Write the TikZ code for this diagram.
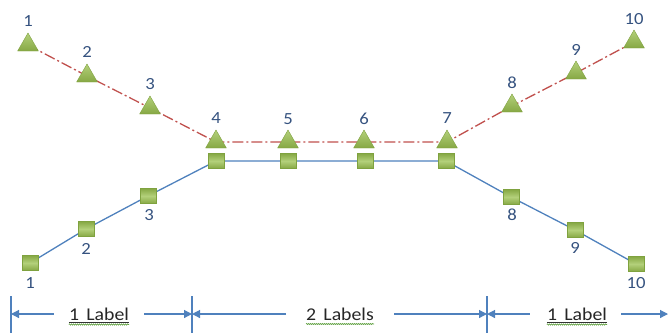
\documentclass[tikz,border=0pt]{standalone}
\usepackage{fontspec}
\setmainfont{Carlito}[FakeStretch=1.1]
\usetikzlibrary{shapes.geometric,arrows.meta,backgrounds,decorations.pathmorphing}
\definecolor{gfill}{HTML}{9BBB59}
\definecolor{gtop}{HTML}{B3D07A}
\definecolor{gbot}{HTML}{86A844}
\definecolor{gedge}{HTML}{7FA23F}
\definecolor{redc}{HTML}{C0504D}
\definecolor{bluec}{HTML}{4F81BD}
\definecolor{numc}{HTML}{35527F}
\definecolor{wavyc}{HTML}{5FA040}
\begin{document}
\begin{tikzpicture}[x=1pt,y=-1pt,
  tri/.style={regular polygon, regular polygon sides=3, minimum size=24pt, inner sep=0pt,
    draw=gedge, line width=0.4pt, top color=gtop, bottom color=gbot},
  sq/.style={rectangle, minimum width=16pt, minimum height=15pt, inner sep=0pt,
    draw=gedge, line width=0.4pt, top color=gbot, bottom color=gbot, middle color=gtop},
  num/.style={text=numc, font=\fontsize{17}{17}\selectfont, inner sep=0pt},
  dimtxt/.style={text=black!85, font=\fontsize{18}{18}\selectfont, inner sep=0pt, anchor=base},
  redl/.style={draw=redc, line width=1.3pt, dash pattern=on 11pt off 3pt on 2pt off 3pt},
  bluel/.style={draw=bluec, line width=1.3pt},
  dimarr/.style={draw=bluec, line width=1.2pt, -{Triangle[length=8pt,width=8pt]}},
  tick/.style={draw=bluec, line width=1.2pt},
  wav/.style={draw=wavyc, line width=0.6pt, decorate, decoration={snake, segment length=2pt, amplitude=0.6pt}},
  uline/.style={draw=black!80, line width=0.8pt}
]
\useasboundingbox (0,0) rectangle (668,333);

% triangles
\node[tri] (t1) at (28,45) {};
\node[tri] (t2) at (87,76) {};
\node[tri] (t3) at (150,108) {};
\node[tri] (t4) at (216,142) {};
\node[tri] (t5) at (288,142) {};
\node[tri] (t6) at (364,142) {};
\node[tri] (t7) at (447,142) {};
\node[tri] (t8) at (512,106) {};
\node[tri] (t9) at (576,73) {};
\node[tri] (t10) at (634,42) {};

% squares
\node[sq] (s1) at (30,263) {};
\node[sq] (s2) at (86,229) {};
\node[sq] (s3) at (148,196) {};
\node[sq] (s4) at (216,161) {};
\node[sq] (s5) at (288,161) {};
\node[sq] (s6) at (365,161) {};
\node[sq] (s7) at (446,161) {};
\node[sq] (s8) at (511,197) {};
\node[sq] (s9) at (575,230) {};
\node[sq] (s10) at (636,264) {};

\begin{pgfonlayer}{background}
\draw[redl] (t1.center) -- (t2.center) -- (t3.center) -- (t4.center) -- (t5.center) -- (t6.center)
  -- (t7.center) -- (t8.center) -- (t9.center) -- (t10.center);
\draw[bluel] (s1.center) -- (s2.center) -- (s3.center) -- (s4.center) -- (s5.center) -- (s6.center)
  -- (s7.center) -- (s8.center) -- (s9.center) -- (s10.center);
\end{pgfonlayer}

% triangle labels
\node[num] (a1) at (28,21) {1};
\node[num] (a2) at (87,52) {2};
\node[num] (a3) at (150,84) {3};
\node[num] (a4) at (216,118) {4};
\node[num] (a5) at (288,119) {5};
\node[num] (a6) at (364,119) {6};
\node[num] (a7) at (447,118) {7};
\node[num] (a8) at (512,83) {8};
\node[num] (a9) at (576,50) {9};
\node[num] (a10) at (634,19) {10};

% square labels
\node[num] (b1) at (30,283) {1};
\node[num] (b2) at (86,249) {2};
\node[num] (b3) at (149,215) {3};
\node[num] (b8) at (512,215) {8};
\node[num] (b9) at (575,248) {9};
\node[num] (b10) at (636,283) {10};

% dimension line
\coordinate (k0) at (11,314);
\coordinate (k1) at (192,314);
\coordinate (k2) at (487,314);
\coordinate (k3) at (668,314);
\draw[tick] (11,296) -- (11,333);
\draw[tick] (192,296) -- (192,333);
\draw[tick] (487,296) -- (487,333);

\node[dimtxt] (d1) at (99,320) {1\hspace{0.4em}Label};
\node[dimtxt] (d2) at (340,320) {2\hspace{0.4em}Labels};
\node[dimtxt] (d3) at (577,320) {1\hspace{0.4em}Label};

\draw[dimarr] ([xshift=-15pt,yshift=6pt]d1.base west) -- (k0);
\draw[dimarr] ([xshift=15pt,yshift=6pt]d1.base east) -- (k1);
\draw[dimarr] ([xshift=-20pt,yshift=6pt]d2.base west) -- (k1);
\draw[dimarr] ([xshift=20pt,yshift=6pt]d2.base east) -- (k2);
\draw[dimarr] ([xshift=-17pt,yshift=6pt]d3.base west) -- (k2);
\draw[dimarr] ([xshift=14pt,yshift=6pt]d3.base east) -- (k3);

\draw[uline] ([yshift=-2pt]d1.base west) -- ([yshift=-2pt]d1.base east);
\draw[uline] ([yshift=-2pt]d3.base west) -- ([yshift=-2pt]d3.base east);
\draw[wav] ([yshift=-4.5pt]d1.base west) -- ([yshift=-4.5pt]d1.base east);
\draw[wav] ([yshift=-4pt]d2.base west) -- ([yshift=-4pt]d2.base east);
\draw[wav] ([yshift=-4.5pt]d3.base west) -- ([yshift=-4.5pt]d3.base east);
\end{tikzpicture}
\end{document}
